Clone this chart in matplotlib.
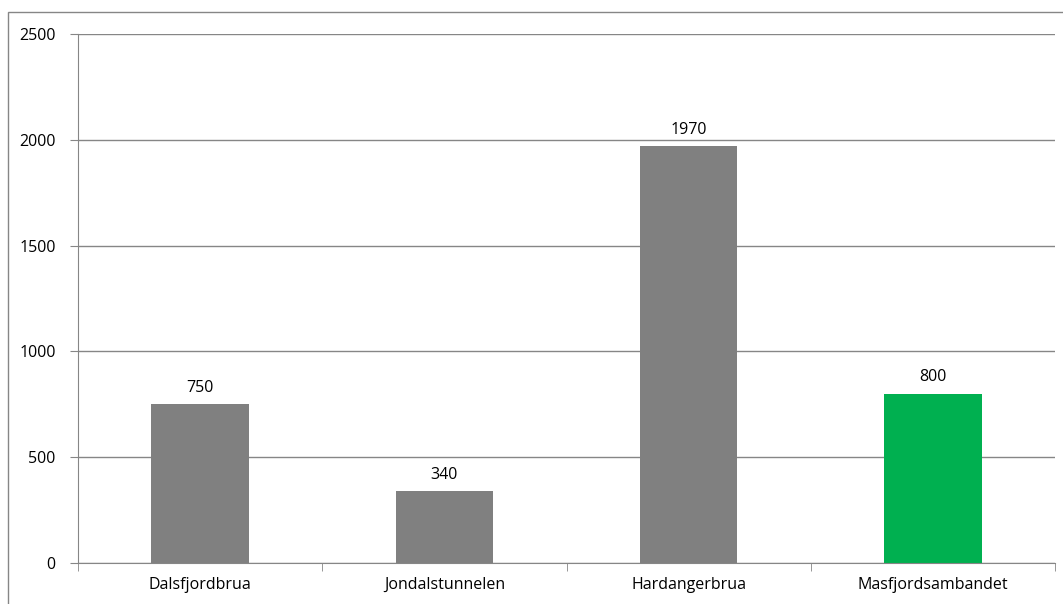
import matplotlib.pyplot as plt
from matplotlib.patches import Rectangle

categories = ["Dalsfjordbrua", "Jondalstunnelen", "Hardangerbrua", "Masfjordsambandet"]
values = [750, 340, 1970, 800]
colors = ["#808080", "#808080", "#808080", "#00B050"]
yticks = [0, 500, 1000, 1500, 2000, 2500]

plt.rcParams["font.family"] = ["Open Sans", "DejaVu Sans"]
FS = 11.5

fig = plt.figure(figsize=(10.63, 6.04), dpi=100)
ax = fig.add_axes([78 / 1063, 41 / 604, 977 / 1063, 529 / 604])

# outer chart frame
fig.patches.append(Rectangle((8 / 1063, -0.1), 1.2, 1.1 - 12 / 604,
                             transform=fig.transFigure, fill=False,
                             edgecolor="#868686", linewidth=1.0))

x = range(len(categories))
ax.bar(x, values, width=0.4, color=colors)
for xi, v in zip(x, values):
    ax.text(xi, v + 40, str(v), ha="center", va="bottom", fontsize=FS)

ax.set_xlim(-0.5, len(categories) - 0.5)
ax.set_ylim(0, 2500)
ax.set_yticks(yticks)
ax.set_yticklabels([str(t) for t in yticks], fontsize=FS)
ax.yaxis.grid(True, color="#868686", linewidth=1.0)
ax.set_axisbelow(True)

ax.set_xticks(list(x))
ax.set_xticklabels(categories, fontsize=FS)
ax.tick_params(axis="x", length=0, pad=10)
ax.set_xticks([i - 0.5 for i in range(len(categories) + 1)], minor=True)
ax.tick_params(axis="x", which="minor", length=6, color="#868686", direction="out")
ax.tick_params(axis="y", length=6, color="#868686", pad=10)

for side in ["top", "right"]:
    ax.spines[side].set_visible(False)
for side in ["left", "bottom"]:
    ax.spines[side].set_color("#868686")

fig.savefig("out.png", dpi=100)
